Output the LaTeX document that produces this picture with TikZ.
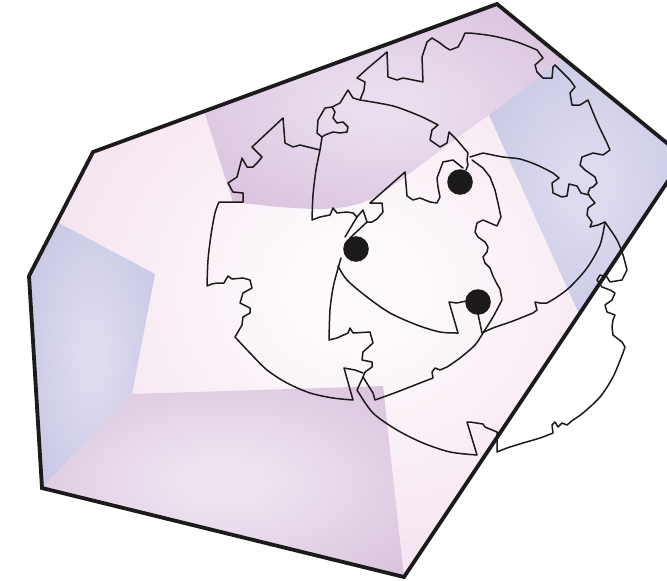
\documentclass[tikz,border=0pt]{standalone}
\usepackage{tikz}
\definecolor{pkin}{HTML}{FDF9FC}
\definecolor{pkout}{HTML}{EFD1E5}
\definecolor{puin}{HTML}{EADEEE}
\definecolor{puout}{HTML}{D3B7D8}
\definecolor{blin}{HTML}{DCDBEF}
\definecolor{blout}{HTML}{C0BFE0}
\definecolor{bpin}{HTML}{EEE4F1}
\definecolor{bpout}{HTML}{D4BAD8}
\definecolor{ink}{HTML}{1C1A1B}
\pgfdeclareradialshading{pinkcell}{\pgfpoint{0bp}{0bp}}{color(0bp)=(pkin); color(5bp)=(pkin); color(42bp)=(pkout); color(75bp)=(pkout)}
\pgfdeclareradialshading{purplecell}{\pgfpoint{0bp}{0bp}}{color(0bp)=(puin); color(5bp)=(puin); color(42bp)=(puout); color(75bp)=(puout)}
\pgfdeclareradialshading{bluecell}{\pgfpoint{0bp}{0bp}}{color(0bp)=(blin); color(5bp)=(blin); color(42bp)=(blout); color(75bp)=(blout)}
\pgfdeclareradialshading{lowpurple}{\pgfpoint{0bp}{0bp}}{color(0bp)=(bpin); color(5bp)=(bpin); color(42bp)=(bpout); color(75bp)=(bpout)}
\tikzset{
  jag/.style={draw=ink, line width=1.5pt, line join=round, line cap=round},
  rim/.style={draw=ink, line width=3.8pt, line join=miter},
  dotn/.style={circle, fill=ink, inner sep=0pt, minimum size=25.6pt}
}
\begin{document}
\begin{tikzpicture}[x=1pt,y=-1pt]
\useasboundingbox (0,0) rectangle (667,581);
\clip (0,0) rectangle (667,581);
% cells
\shade[shading=pinkcell] (497,4) -- (684,157) -- (404,577) -- (42,488) -- (29,276) -- (93,152) -- cycle;
\shade[shading=purplecell] (204,111) -- (497,4) -- (565,58) -- (489,115) -- plot[smooth] coordinates {(489,115) (450,143) (410,173) (375,197) (350,206) (320,209) (280,207) (233,202)} -- cycle;
\shade[shading=bluecell] (489,115) -- (565,58) -- (684,157) -- (579,314) -- cycle;
\shade[shading=bluecell] (57,222) -- (155,274) -- (132,394) -- (42,488) -- (29,276) -- cycle;
\shade[shading=lowpurple] (132,394) -- (383,386) -- (404,577) -- (42,488) -- cycle;
% left shape
\draw[jag] (363,373) -- (355,370) -- (344,368) -- (353,400)
  -- plot[smooth] coordinates {(353,400) (333,398) (310,393) (287,383) (267,370) (250,353) (235,337)}
  -- (242,325) -- (243,317) -- (250,313) -- (250,308) -- (240,303) -- (243,293) -- (252,288) -- (250,280)
  -- (243,278) -- (232,279) -- (228,276) -- (224,283) -- (217,283) -- (212,284) -- (207,286)
  -- plot[smooth] coordinates {(207,286) (208,260) (211,235) (215,213) (219,202)}
  -- (243,202) -- (243,193) -- (233,192) -- (228,183) -- (237,177) -- (242,158) -- (247,167) -- (253,167)
  -- (258,162) -- (262,157) -- (252,147) -- (283,118) -- (285,143) -- (293,147) -- (300,145) -- (320,150);
% upper shape left side and lower jag
\draw[jag] (322,137) -- plot[smooth] coordinates {(322,137) (320,150) (316,170) (313,195) (312,220)}
  -- (320,217) -- (330,215) -- (333,208) -- (337,213) -- (347,212) -- (353,213) -- (357,217) -- (363,210)
  -- (367,222) -- (350,238);
\draw[jag] (357,217) -- (345,237);
% blob
\draw[jag] (322,137) -- (317,133) -- (318,120) -- (325,108) -- (332,107) -- (335,112) -- (333,118) -- (337,123)
  -- (343,122) -- (348,127) -- (347,132) -- (340,133) -- (333,132) -- (325,135) -- cycle;
\draw[jag] (332,107) -- (340,103) -- (348,90) -- (353,98) -- (360,100);
% upper arc
\draw[jag] (360,100) -- plot[smooth] coordinates {(360,100) (393,106) (420,116) (438,125)}
  -- (432,130) -- (430,140) -- (440,147) -- (447,143) -- (449,132) -- (457,140) -- (468,153) -- (467,160)
  -- (468,165) -- (466,170);
% middle shape upper boundary
\draw[jag] (367,222) -- (372,222) -- (377,219) -- (383,212) -- (382,203) -- (370,203) -- (405,172) -- (407,196)
  -- (413,200) -- (420,198) -- (430,202) -- (437,203) -- (440,197) -- (438,187) -- (437,178) -- (443,162)
  -- (453,160) -- (463,168);
% crown
\draw[jag] (360,100) -- (364,90) -- (365,82) -- (357,78) -- (368,68) -- (387,52) -- (388,77) -- (397,80)
  -- (403,78) -- (423,82) -- (422,57) -- (427,42) -- (432,38) -- (440,43) -- (445,47) -- (450,50) -- (458,47)
  -- (462,40) -- (465,33) -- (470,33)
  -- plot[smooth] coordinates {(470,33) (493,36) (517,42) (537,50)}
  -- (543,58) -- (535,65) -- (537,72) -- (543,78) -- (552,78) -- (553,67) -- (555,65) -- (570,80) -- (575,87)
  -- (570,93) -- (572,105) -- (580,105) -- (588,100)
  -- plot[smooth] coordinates {(588,100) (597,122) (607,143)}
  -- (610,150) -- (603,155) -- (593,153) -- (582,157) -- (580,165) -- (585,170) -- (595,177) -- (597,183)
  -- (593,187) -- (590,188) -- (588,193) -- (590,197) -- (595,203) -- (588,208) -- (587,215) -- (592,222)
  -- (590,227) -- (598,225) -- (605,222)
  -- plot[smooth] coordinates {(605,222) (617,240) (623,255) (627,270)}
  -- (622,280) -- (610,282) -- (607,277) -- (600,275) -- (597,280) -- (602,287) -- (610,290) -- (615,293)
  -- (612,300) -- (605,305) -- (607,312) -- (615,315) -- (613,320) -- (612,327) -- (613,335) -- (622,342)
  -- (625,347) -- (623,353)
  -- plot[smooth] coordinates {(623,353) (613,377) (600,397) (583,413) (573,420)}
  -- (567,425) -- (562,423) -- (558,427) -- (555,422) -- (552,425) -- (553,433)
  -- plot[smooth] coordinates {(553,433) (540,438) (523,443) (507,448) (497,452)}
  -- (497,432) -- (485,427) -- (483,424) -- (470,422) -- (467,422) -- (477,455)
  -- plot[smooth] coordinates {(477,455) (450,452) (423,443) (397,430) (373,413) (357,390)}
  -- (363,377);
% middle shape left side and lower arc, right jag
\draw[jag] (341,258) -- plot[smooth] coordinates {(341,258) (337,272) (333,288) (330,310) (329,340)}
  -- (337,338) -- (348,333) -- (350,328) -- (353,333) -- (370,332) -- (373,343) -- (363,352) -- (362,360)
  -- (372,362) -- (372,367) -- (365,372) -- (363,377) -- (373,393) -- (375,400)
  -- plot[smooth] coordinates {(375,400) (397,392) (420,383)}
  -- (433,378) -- (432,372) -- (435,368) -- (440,370) -- (447,367)
  -- plot[smooth] coordinates {(447,367) (460,358) (475,345) (483,333) (493,317) (502,300)}
  -- (500,289) -- (497,284) -- (493,276) -- (490,268) -- (485,263) -- (483,257) -- (487,252) -- (488,247)
  -- (485,242) -- (478,237) -- (475,232) -- (477,223) -- (483,220) -- (497,226) -- (501,217) -- (498,203)
  -- (495,190) -- (490,177) -- (483,168) -- (472,160);
% arc from dot 2 to wedge at dot 3
\draw[jag] (338,266) -- plot[smooth] coordinates {(338,266) (347,280) (367,297) (390,313) (417,325) (440,332) (458,333)}
  -- (449,302) -- (457,303) -- (466,301);
\draw[jag] (478,314) -- (482,333);
% right shape lower arc
\draw[jag] (482,333) -- plot[smooth] coordinates {(482,333) (493,328) (513,321) (533,313)}
  -- (537,310) -- (535,302) -- (540,303) -- (547,303)
  -- plot[smooth] coordinates {(547,303) (557,297) (570,287) (587,268) (600,245) (605,222)};
% right shape upper arc
\draw[jag] (470,157) -- (483,153) -- plot[smooth] coordinates {(483,153) (503,157) (520,159) (537,165) (553,173)}
  -- (559,178) -- (552,183) -- (553,193) -- (562,197) -- (567,196) -- (569,184) -- (577,186) -- (581,193) -- (589,195);
% outer border
\draw[rim] (497,4) -- (684,157) -- (404,577) -- (42,488) -- (29,276) -- (93,152) -- cycle;
% dots
\node[dotn] (d1) at (460,182) {};
\node[dotn] (d2) at (356,249) {};
\node[dotn] (d3) at (478,302) {};
\end{tikzpicture}
\end{document}
